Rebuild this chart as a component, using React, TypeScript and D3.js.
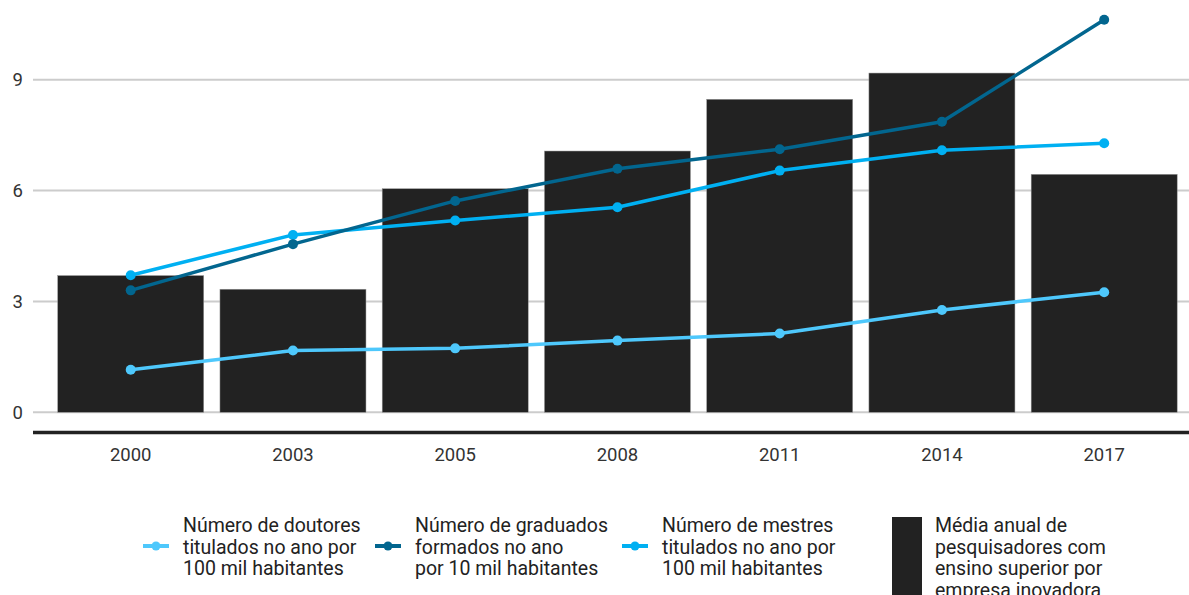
import React from 'react'
import * as d3 from 'd3'

const years = ['2000', '2003', '2005', '2008', '2011', '2014', '2017']
const pesquisadores = [3.7, 3.33, 6.05, 7.07, 8.47, 9.18, 6.44]
const doutores = [1.15, 1.67, 1.73, 1.94, 2.13, 2.77, 3.25]
const graduados = [3.3, 4.55, 5.72, 6.59, 7.12, 7.86, 10.62]
const mestres = [3.71, 4.8, 5.19, 5.55, 6.54, 7.09, 7.28]
const yTicks = [0, 3, 6, 9]

const lineSeries = [
  { name: 'doutores', values: doutores, color: '#4ec8fc' },
  { name: 'mestres', values: mestres, color: '#00b0f2' },
  { name: 'graduados', values: graduados, color: '#02668f' },
]

const legendItems = [
  { x: 143, color: '#4ec8fc', lines: ['Número de doutores', 'titulados no ano por', '100 mil habitantes'] },
  { x: 375, color: '#02668f', lines: ['Número de graduados', 'formados no ano', 'por 10 mil habitantes'] },
  { x: 622, color: '#00b0f2', lines: ['Número de mestres', 'titulados no ano por', '100 mil habitantes'] },
]
const barLegend = ['Média anual de', 'pesquisadores com', 'ensino superior por', 'empresa inovadora']

export default function App() {
  const width = 1189
  const height = 595

  // scales
  const x = d3.scaleBand<string>()
    .domain(years)
    .range([49.6, 1185.3])
    .paddingInner(0.1)
    .paddingOuter(0.05)

  const y = d3.scaleLinear()
    .domain([0, 9])
    .range([412.3, 79.7])

  const cx = (i: number) => (x(years[i]) ?? 0) + x.bandwidth() / 2

  const line = d3.line<number>()
    .x((_, i) => cx(i))
    .y(d => y(d))

  const font = 'Roboto, "Noto Sans", sans-serif'

  return (
    <svg width={width} height={height} style={{ position: 'absolute', left: 0, top: 0, fontFamily: font }}>
      <rect width={width} height={height} fill="#fff" />

      {/* gridlines + y labels */}
      {yTicks.map(t => (
        <g key={t}>
          <line x1={33} x2={width} y1={y(t)} y2={y(t)} stroke="#cccccc" strokeWidth={2} />
          <text x={23} y={y(t)} dy="0.35em" textAnchor="end" fontSize={18.5} fill="#333">{t}</text>
        </g>
      ))}

      {/* bars */}
      {pesquisadores.map((v, i) => (
        <rect key={years[i]} x={x(years[i])} y={y(v)} width={x.bandwidth()} height={y(0) - y(v)}
          fill="#222222" stroke="#999" strokeWidth={0.5} />
      ))}

      {/* lines */}
      {lineSeries.map(s => (
        <g key={s.name}>
          <path d={line(s.values) ?? ''} fill="none" stroke={s.color} strokeWidth={3.5} strokeLinejoin="round" />
          {s.values.map((v, i) => (
            <circle key={i} cx={cx(i)} cy={y(v)} r={5} fill={s.color} />
          ))}
        </g>
      ))}

      {/* x axis */}
      <line x1={33} x2={width} y1={432.5} y2={432.5} stroke="#222" strokeWidth={3.5} />
      {years.map((yr, i) => (
        <text key={yr} x={cx(i)} y={461} textAnchor="middle" fontSize={18.5} fill="#333">{yr}</text>
      ))}

      {/* legend */}
      {legendItems.map(item => (
        <g key={item.x}>
          <line x1={item.x} x2={item.x + 26} y1={546} y2={546} stroke={item.color} strokeWidth={4} />
          <circle cx={item.x + 13} cy={546} r={4.5} fill={item.color} />
          {item.lines.map((l, j) => (
            <text key={j} x={item.x + 40} y={532 + j * 21.7} fontSize={19.5} fill="#222">{l}</text>
          ))}
        </g>
      ))}
      <rect x={892} y={517} width={30} height={90} fill="#222222" />
      {barLegend.map((l, j) => (
        <text key={j} x={935} y={532 + j * 21.7} fontSize={19.5} fill="#222">{l}</text>
      ))}
    </svg>
  )
}
